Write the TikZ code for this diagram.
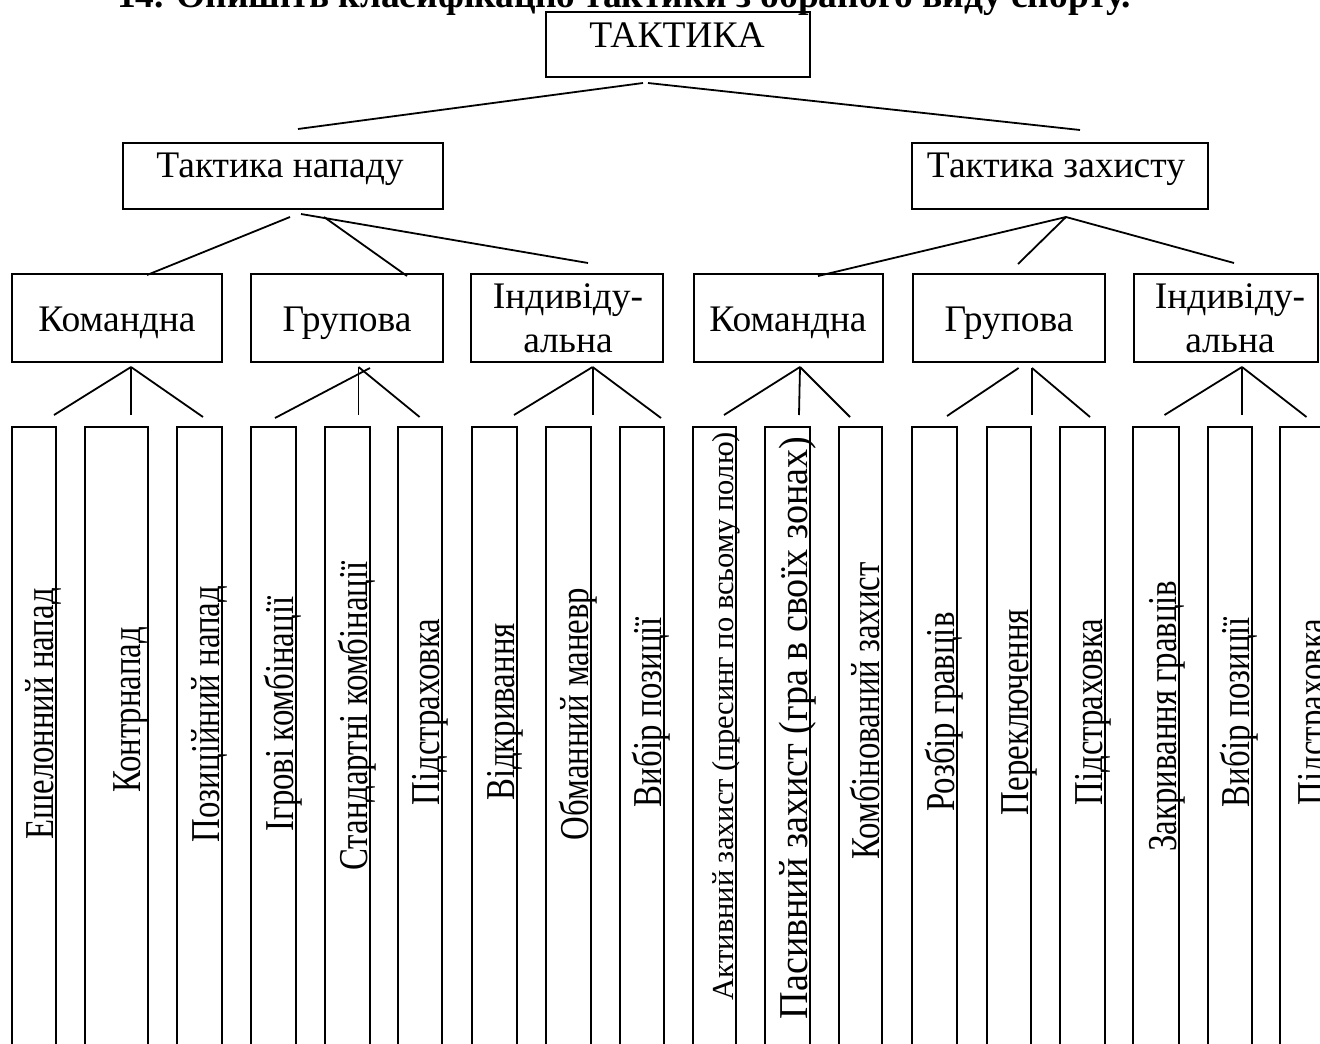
\documentclass[tikz,border=0pt]{standalone}
\usepackage{fontspec}
\setmainfont{Liberation Serif}
\usepackage{graphicx}
\newcommand\vtxt[3]{\scalebox{#1}[1]{\fontsize{#2}{#2}\selectfont #3}}
\begin{document}
\begin{tikzpicture}[x=1pt,y=-1pt,
  box/.style={draw, line width=2pt, inner sep=0pt, outer sep=0pt},
  conn/.style={line width=1.8pt},
  lbl/.style={inner sep=0pt, anchor=base, font=\fontsize{37.5}{43}\selectfont},
  vlbl/.style={inner sep=0pt, anchor=base, rotate=90},
  ttl/.style={inner sep=0pt, anchor=base, font=\fontsize{37.5}{43}\selectfont\bfseries}]
\useasboundingbox (0,0) rectangle (1320,1044);
\clip (0,0) rectangle (1320,1044);
\fill[white] (0,0) rectangle (1320,1044);

% title (cut off at the top)
\node[ttl] (title) at (624,7.5) {14. Опишіть класифікацію тактики з обраного виду спорту.};

% level 0
\node[box, minimum width=264pt, minimum height=65pt] (T) at (678,44.5) {};
\node[lbl] (Tt) at (677,47) {ТАКТИКА};

% level 1
\node[box, minimum width=320pt, minimum height=66pt] (N) at (283,176) {};
\node[lbl] (Nt) at (280,177) {Тактика нападу};
\node[box, minimum width=296pt, minimum height=66pt] (Z) at (1060,176) {};
\node[lbl] (Zt) at (1056,177) {Тактика захисту};

% level 2
\node[box, minimum width=210.5pt, minimum height=88pt] (L1) at (116.75,318) {};
\node[lbl] (L1t) at (117,331) {Командна};
\node[box, minimum width=192pt, minimum height=88pt] (L2) at (347,318) {};
\node[lbl] (L2t) at (347,331) {Групова};
\node[box, minimum width=192pt, minimum height=88pt] (L3) at (567,318) {};
\node[lbl] (L3a) at (568,308) {Індивіду-};
\node[lbl] (L3b) at (568,352) {альна};
\node[box, minimum width=189pt, minimum height=88pt] (R1) at (788.5,318) {};
\node[lbl] (R1t) at (788,331) {Командна};
\node[box, minimum width=192.5pt, minimum height=88pt] (R2) at (1008.75,318) {};
\node[lbl] (R2t) at (1009,331) {Групова};
\node[box, minimum width=184.5pt, minimum height=88pt] (R3) at (1225.75,318) {};
\node[lbl] (R3a) at (1230,308) {Індивіду-};
\node[lbl] (R3b) at (1230,352) {альна};

% level 3 boxes (open below the picture)
\foreach \nm/\l/\r in {b1/12/56, b2/85/148, b3/177/222, b4/251/296, b5/325/370, b6/398/442,
  b7/472/517, b8/546/591, b9/620/664, b10/693/736, b11/765/810, b12/839/882,
  b13/912/957, b14/987/1031, b15/1060/1105, b16/1133/1179, b17/1208/1252, b18/1280/1327}{
  \pgfmathsetmacro\w{\r-\l}
  \pgfmathsetmacro\c{(\r+\l)/2}
  \node[box, minimum width=\w pt, minimum height=633pt] (\nm) at (\c,743.5) {};
}

% level 3 labels
\node[vlbl] (b1t)  at (53.5,714)  {\vtxt{0.8}{41}{Ешелонний напад}};
\node[vlbl] (b2t)  at (140,710)   {\vtxt{0.8}{41}{Контрнапад}};
\node[vlbl] (b3t)  at (219.5,714) {\vtxt{0.8}{41}{Позиційний напад}};
\node[vlbl] (b4t)  at (293.5,714) {\vtxt{0.8}{41}{Ігрові комбінації}};
\node[vlbl] (b5t)  at (367.5,716) {\vtxt{0.8}{41}{Стандартні комбінації}};
\node[vlbl] (b6t)  at (439.5,712) {\vtxt{0.8}{41}{Підстраховка}};
\node[vlbl] (b7t)  at (514,712)   {\vtxt{0.8}{41}{Відкривання}};
\node[vlbl] (b8t)  at (588.5,714) {\vtxt{0.8}{41}{Обманний маневр}};
\node[vlbl] (b9t)  at (661.5,712) {\vtxt{0.8}{41}{Вибір позиції}};
\node[vlbl] (b10t) at (733.5,716) {\vtxt{1}{30.5}{Активний захист (пресинг по всьому полю)}};
\node[vlbl] (b11t) at (807.5,728) {\vtxt{0.93}{41}{Пасивний захист (гра в своїх зонах)}};
\node[vlbl] (b12t) at (879.5,711) {\vtxt{0.8}{41}{Комбінований захист}};
\node[vlbl] (b13t) at (954.5,712) {\vtxt{0.8}{41}{Розбір гравців}};
\node[vlbl] (b14t) at (1028.5,712){\vtxt{0.8}{41}{Переключення}};
\node[vlbl] (b15t) at (1102.5,712){\vtxt{0.8}{41}{Підстраховка}};
\node[vlbl] (b16t) at (1176.5,716){\vtxt{0.8}{41}{Закривання гравців}};
\node[vlbl] (b17t) at (1249.5,712){\vtxt{0.8}{41}{Вибір позиції}};
\node[vlbl] (b18t) at (1325,712)  {\vtxt{0.8}{41}{Підстраховка}};

% connector end points
\coordinate (aTl) at (643,83);  \coordinate (aTr) at (648,83);
\coordinate (eN) at (298,129);  \coordinate (eZ) at (1080,130);
\coordinate (aN1) at (290,217); \coordinate (eL1) at (147,275);
\coordinate (aN2) at (301,214); \coordinate (eL3) at (588,263);
\coordinate (aN3) at (324,217); \coordinate (eL2) at (407,276);
\coordinate (aZ) at (1066,217);
\coordinate (eR1) at (818,276); \coordinate (eR2) at (1018,264); \coordinate (eR3) at (1234,263);
% level 2 -> 3
\coordinate (aL1) at (131,367);
\coordinate (e1) at (54,415); \coordinate (e2) at (131,415); \coordinate (e3) at (203,417);
\coordinate (aL2a) at (370,368); \coordinate (aL2) at (358.5,367);
\coordinate (e4) at (275,418); \coordinate (e5) at (358.5,415); \coordinate (e6) at (419.6,417);
\coordinate (aL3) at (592.6,367);
\coordinate (e7) at (514,415); \coordinate (e8) at (592.6,415); \coordinate (e9) at (661,418);
\coordinate (aR1) at (800,367);
\coordinate (e10) at (724,415); \coordinate (e11) at (799,415); \coordinate (e12) at (850,417);
\coordinate (aR2a) at (1018.6,368); \coordinate (aR2) at (1032,368);
\coordinate (e13) at (947,416); \coordinate (e14) at (1032,415); \coordinate (e15) at (1090,417);
\coordinate (aR3) at (1242,367);
\coordinate (e16) at (1164.5,415); \coordinate (e17) at (1242,415); \coordinate (e18) at (1306.5,417);

\draw[conn] (aTl) -- (eN);
\draw[conn] (aTr) -- (eZ);
\draw[conn] (aN1) -- (eL1);
\draw[conn] (aN2) -- (eL3);
\draw[conn] (aN3) -- (eL2);
\draw[conn] (aZ) -- (eR1);
\draw[conn] (aZ) -- (eR2);
\draw[conn] (aZ) -- (eR3);
\draw[conn] (aL1) -- (e1); \draw[conn] (aL1) -- (e2); \draw[conn] (aL1) -- (e3);
\draw[conn] (aL2a) -- (e4); \draw[conn] (aL2) -- (e5); \draw[conn] (aL2) -- (e6);
\draw[conn] (aL3) -- (e7); \draw[conn] (aL3) -- (e8); \draw[conn] (aL3) -- (e9);
\draw[conn] (aR1) -- (e10); \draw[conn] (aR1) -- (e11); \draw[conn] (aR1) -- (e12);
\draw[conn] (aR2a) -- (e13); \draw[conn] (aR2) -- (e14); \draw[conn] (aR2) -- (e15);
\draw[conn] (aR3) -- (e16); \draw[conn] (aR3) -- (e17); \draw[conn] (aR3) -- (e18);
\end{tikzpicture}
\end{document}
